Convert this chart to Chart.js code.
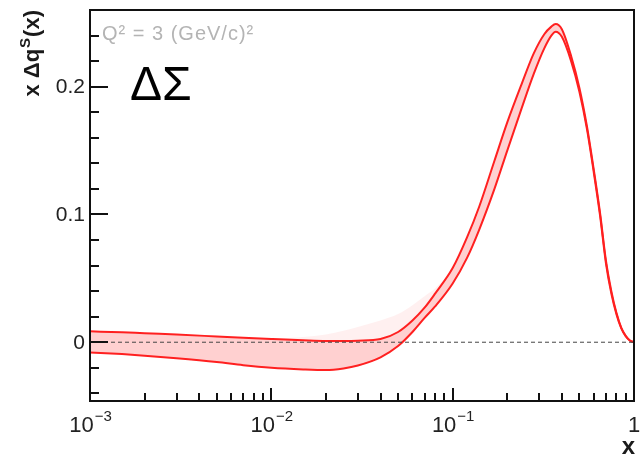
<!DOCTYPE html>
<html>
<head>
<meta charset="utf-8">
<script src="https://cdn.jsdelivr.net/npm/chart.js@4/dist/chart.umd.min.js"></script>
<style>
  html, body { margin: 0; padding: 0; background: #fff; }
  canvas { display: block; }
</style>
</head>
<body>
<canvas id="chart" width="640" height="457"></canvas>
<script>
// x values (log axis) and the edges of the uncertainty band
const xValues = [0.001, 0.0015, 0.002, 0.003, 0.005, 0.007, 0.01, 0.015, 0.02, 0.025, 0.03, 0.04, 0.05, 0.06, 0.07, 0.08, 0.1, 0.12, 0.14, 0.17, 0.2, 0.24, 0.28, 0.32, 0.35, 0.37, 0.4, 0.45, 0.5, 0.55, 0.6, 0.65, 0.7, 0.75, 0.8, 0.85, 0.9, 0.95, 1.0];
const upperBand = [0.0085, 0.0078, 0.007, 0.006, 0.0045, 0.0035, 0.0025, 0.0015, 0.001, 0.001, 0.0012, 0.0025, 0.008, 0.017, 0.027, 0.038, 0.058, 0.082, 0.106, 0.142, 0.172, 0.202, 0.226, 0.241, 0.247, 0.249, 0.245, 0.224, 0.199, 0.169, 0.135, 0.101, 0.064, 0.040, 0.023, 0.0115, 0.005, 0.0014, 0];
const lowerBand = [-0.008, -0.0093, -0.0105, -0.0125, -0.0155, -0.018, -0.020, -0.0213, -0.0218, -0.0205, -0.0182, -0.0118, -0.003, 0.008, 0.019, 0.028, 0.046, 0.066, 0.088, 0.120, 0.150, 0.183, 0.210, 0.230, 0.240, 0.243, 0.239, 0.220, 0.196, 0.167, 0.133, 0.099, 0.062, 0.038, 0.022, 0.011, 0.0047, 0.0012, 0];
// faint outer spread above the band at medium x
const outerUpper = [0.0085, 0.0078, 0.007, 0.006, 0.0045, 0.0035, 0.003, 0.004, 0.006, 0.009, 0.012, 0.017, 0.022, 0.029, 0.036, 0.042, 0.058, 0.082, 0.106, 0.142, 0.172, 0.202, 0.226, 0.241, 0.247, 0.249, 0.245, 0.224, 0.199, 0.169, 0.135, 0.101, 0.064, 0.040, 0.023, 0.0115, 0.005, 0.0014, 0];

// tick labels
const yMajorTicks = [0, 0.1, 0.2];
const yMinorStep = 0.02;
const xMajorTicks = [0.001, 0.01, 0.1, 1];
const xTickBase = ["10", "10", "10", "1"];
const xTickExp = ["\u22123", "\u22122", "\u22121", ""];

const FONT = "'Liberation Sans', Arial, 'DejaVu Sans', sans-serif";

const toPoints = (ys) => xValues.map((x, i) => ({ x: x, y: ys[i] }));

// frame, ticks, labels and annotations, placed through the chart scales
const decor = {
  id: "decor",
  afterDatasetsDraw(chart) {
    const { ctx, chartArea: a, scales: { x, y } } = chart;
    ctx.save();

    // dashed zero line
    ctx.strokeStyle = "#444";
    ctx.lineWidth = 1;
    ctx.setLineDash([4, 3]);
    ctx.beginPath();
    ctx.moveTo(a.left, y.getPixelForValue(0));
    ctx.lineTo(a.right, y.getPixelForValue(0));
    ctx.stroke();
    ctx.setLineDash([]);

    // frame
    ctx.strokeStyle = "#111";
    ctx.lineWidth = 2;
    ctx.strokeRect(a.left, a.top, a.right - a.left, a.bottom - a.top);

    // y ticks
    ctx.beginPath();
    for (let v = -0.04; v <= y.max + 1e-9; v += yMinorStep) {
      const py = Math.round(y.getPixelForValue(v));
      const major = yMajorTicks.some(t => Math.abs(t - v) < 1e-6);
      ctx.moveTo(a.left, py);
      ctx.lineTo(a.left + (major ? 18 : 9), py);
    }
    // x ticks
    for (let d = -3; d < 0; d++) {
      for (let m = 1; m <= 9; m++) {
        const px = Math.round(x.getPixelForValue(m * Math.pow(10, d)));
        ctx.moveTo(px, a.bottom);
        ctx.lineTo(px, a.bottom - (m === 1 ? 13 : 8));
      }
    }
    ctx.stroke();

    // y tick labels
    ctx.fillStyle = "#222";
    ctx.font = "21px " + FONT;
    ctx.textAlign = "right";
    ctx.textBaseline = "middle";
    yMajorTicks.forEach(v => {
      ctx.fillText(String(v), a.left - 5, y.getPixelForValue(v) + 1);
    });

    // x tick labels with exponents
    ctx.textBaseline = "alphabetic";
    ctx.textAlign = "left";
    xMajorTicks.forEach((v, i) => {
      ctx.font = "22px " + FONT;
      const wb = ctx.measureText(xTickBase[i]).width;
      ctx.font = "15px " + FONT;
      const we = ctx.measureText(xTickExp[i]).width;
      const px = x.getPixelForValue(v) - (wb + we) / 2;
      ctx.font = "22px " + FONT;
      ctx.fillText(xTickBase[i], px, a.bottom + 31);
      ctx.font = "15px " + FONT;
      ctx.fillText(xTickExp[i], px + wb + 1, a.bottom + 20);
    });

    // axis titles
    ctx.fillStyle = "#1a1a1a";
    ctx.font = "bold 24px " + FONT;
    ctx.textAlign = "right";
    ctx.fillText("x", a.right + 1, a.bottom + 53);

    ctx.save();
    ctx.translate(39, a.top);
    ctx.rotate(-Math.PI / 2);
    ctx.textAlign = "left";
    ctx.font = "bold 22px " + FONT;
    const p1 = "x \u0394q", p2 = "S", p3 = "(x)";
    const w1 = ctx.measureText(p1).width;
    ctx.font = "bold 15px " + FONT;
    const w2 = ctx.measureText(p2).width;
    ctx.font = "bold 22px " + FONT;
    const w3 = ctx.measureText(p3).width;
    const sx = -(w1 + w2 + w3 + 2);
    ctx.fillText(p1, sx, 0);
    ctx.font = "bold 15px " + FONT;
    ctx.fillText(p2, sx + w1 + 1, -9);
    ctx.font = "bold 22px " + FONT;
    ctx.fillText(p3, sx + w1 + w2 + 2, 0);
    ctx.restore();

    // annotations
    ctx.textAlign = "left";
    ctx.fillStyle = "#b4b4b4";
    ctx.font = "20px " + FONT;
    ctx.letterSpacing = "1px";
    ctx.fillText("Q\u00b2 = 3 (GeV/c)\u00b2", a.left + 12, a.top + 30);
    ctx.letterSpacing = "0px";
    ctx.fillStyle = "#000";
    ctx.font = "48px " + FONT;
    ctx.fillText("\u0394\u03a3", a.left + 40, a.top + 90);

    ctx.restore();
  }
};

new Chart(document.getElementById("chart"), {
  type: "line",
  data: {
    datasets: [
      {
        label: "lower",
        data: toPoints(lowerBand),
        borderColor: "#ff2020",
        borderWidth: 2,
        pointRadius: 0,
        cubicInterpolationMode: "monotone",
        fill: false
      },
      {
        label: "upper",
        data: toPoints(upperBand),
        borderColor: "#ff2020",
        borderWidth: 2,
        pointRadius: 0,
        cubicInterpolationMode: "monotone",
        fill: "-1",
        backgroundColor: "rgba(255, 40, 40, 0.22)"
      },
      {
        label: "outer",
        data: toPoints(outerUpper),
        borderWidth: 0,
        borderColor: "rgba(0,0,0,0)",
        pointRadius: 0,
        cubicInterpolationMode: "monotone",
        fill: "-1",
        backgroundColor: "rgba(255, 40, 40, 0.07)"
      }
    ]
  },
  options: {
    responsive: false,
    animation: false,
    layout: { padding: { left: 90, right: 6, top: 10, bottom: 56 } },
    plugins: { legend: { display: false }, tooltip: { enabled: false } },
    scales: {
      x: { type: "logarithmic", min: 0.001, max: 1, display: false },
      y: { type: "linear", min: -0.046, max: 0.26, display: false }
    }
  },
  plugins: [decor]
});
</script>
</body>
</html>
